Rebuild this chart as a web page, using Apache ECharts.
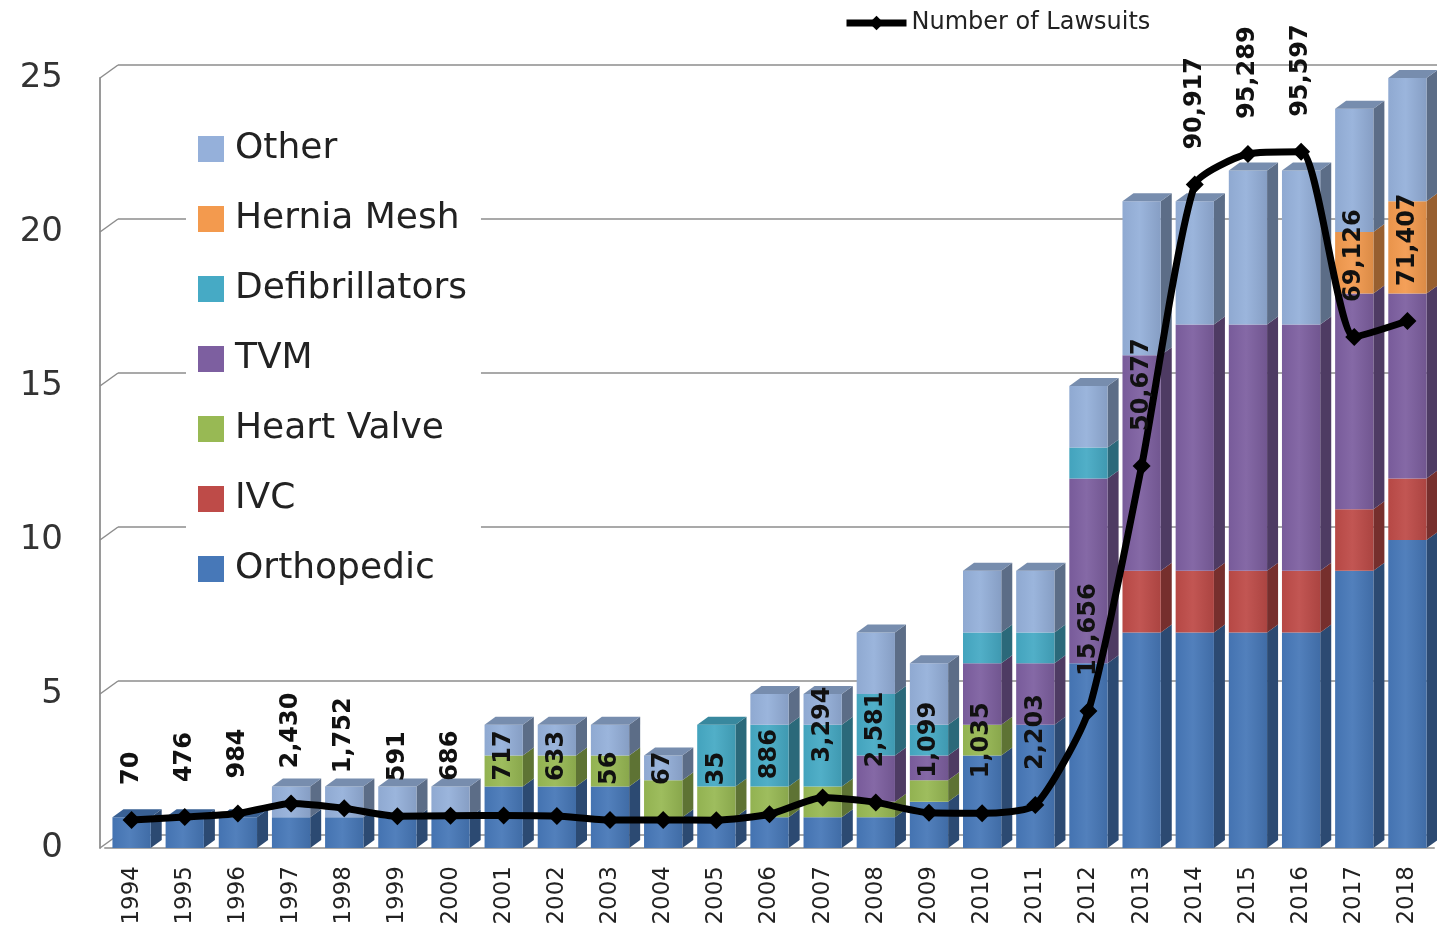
<!DOCTYPE html>
<html><head><meta charset="utf-8">
<script src="https://cdn.jsdelivr.net/npm/echarts@6/dist/echarts.min.js"></script>
<style>html,body{margin:0;padding:0;background:#fff;}#c{width:1437px;height:932px;}</style>
</head><body><div id="c"></div>
<script>
// ---- data ----
const years = ['1994','1995','1996','1997','1998','1999','2000','2001','2002','2003','2004','2005','2006','2007','2008','2009','2010','2011','2012','2013','2014','2015','2016','2017','2018'];
const orthopedic     = [1,1,1,1,1,1,1,2,2,2,1,1,1,1,1,1.5,3,4,6,7,7,7,7,9,10];
const ivc            = [0,0,0,0,0,0,0,0,0,0,0,0,0,0,0,0,0,0,0,2,2,2,2,2,2];
const heartValve     = [0,0,0,0,0,0,0,1,1,1,1.2,1,1,1,0.5,0.7,1,0,0,0,0,0,0,0,0];
const tvm            = [0,0,0,0,0,0,0,0,0,0,0,0,0,0,1.5,0.8,2,2,6,7,8,8,8,7,6];
const defibrillators = [0,0,0,0,0,0,0,0,0,0,0,2,2,2,2,1,1,1,1,0,0,0,0,0,0];
const herniaMesh     = [0,0,0,0,0,0,0,0,0,0,0,0,0,0,0,0,0,0,0,0,0,0,0,2,3];
const other          = [0,0,0,1,1,1,1,1,1,1,0.8,0,1,1,2,2,2,2,2,5,4,5,5,4,4];
const lawsuits       = [70,476,984,2430,1752,591,686,717,633,56,67,35,886,3294,2581,1099,1035,2203,15656,50677,90917,95289,95597,69126,71407];
const yTicks = [0,5,10,15,20,25];

const stackDefs = [
  {name:'Orthopedic', data: orthopedic, color:'#4778B8'},
  {name:'IVC', data: ivc, color:'#BE4B48'},
  {name:'Heart Valve', data: heartValve, color:'#98B954'},
  {name:'TVM', data: tvm, color:'#7D5FA0'},
  {name:'Defibrillators', data: defibrillators, color:'#46AAC5'},
  {name:'Hernia Mesh', data: herniaMesh, color:'#F39A4E'},
  {name:'Other', data: other, color:'#95B0DA'}
];
const legendOrder = ['Other','Hernia Mesh','Defibrillators','TVM','Heart Valve','IVC','Orthopedic'];

// ---- helpers ----
function shade(hex, f){
  const n = parseInt(hex.slice(1),16);
  let r=(n>>16)&255, g=(n>>8)&255, b=n&255;
  if (f<0){ r=Math.round(r*(1+f)); g=Math.round(g*(1+f)); b=Math.round(b*(1+f)); }
  else { r=Math.round(r+(255-r)*f); g=Math.round(g+(255-g)*f); b=Math.round(b+(255-b)*f); }
  return 'rgb('+r+','+g+','+b+')';
}
const DX = 11, DY = 8, WALL_DX = 18, WALL_DY = 13;

function barRender(color){
  return function(params, api){
    const idx = api.value(0), b = api.value(1), t = api.value(2), isTop = api.value(3);
    if (!(t > b)) return;
    const p0 = api.coord([idx, b]), p1 = api.coord([idx, t]);
    const band = api.size([1, 0])[0];
    const w = band * 0.72;
    const x = p0[0] - w/2;
    const yb = p0[1], yt = p1[1];
    const children = [
      {type:'polygon', shape:{points:[[x+w,yt],[x+w+DX,yt-DY],[x+w+DX,yb-DY],[x+w,yb]]},
       style:{fill: shade(color,-0.38)}},
      {type:'rect', shape:{x:x, y:yt, width:w, height:yb-yt},
       style:{fill: new echarts.graphic.LinearGradient(0,0,1,0,[
         {offset:0, color: shade(color,-0.04)},
         {offset:0.45, color: shade(color,0.06)},
         {offset:1, color: shade(color,-0.1)}])}}
    ];
    if (isTop){
      children.push({type:'polygon', shape:{points:[[x,yt],[x+DX,yt-DY],[x+w+DX,yt-DY],[x+w,yt]]},
        style:{fill: shade(color,-0.2)}});
    }
    return {type:'group', children: children};
  };
}

const series = [];
stackDefs.forEach(function(def, si){
  const data = years.map(function(y, j){
    let base = 0;
    for (let k=0;k<si;k++) base += stackDefs[k].data[j];
    let isTop = 1;
    for (let k=si+1;k<stackDefs.length;k++) if (stackDefs[k].data[j] > 0) isTop = 0;
    return [j, base, base + def.data[j], isTop];
  });
  series.push({
    name: def.name, type:'custom', xAxisIndex:0, yAxisIndex:0,
    itemStyle:{color: def.color},
    encode:{x:0, y:[1,2]},
    renderItem: barRender(def.color),
    data: data, z: 2, silent: true
  });
});

// wall connectors (3D side wall diagonals at each tick)
series.push({
  name:'_wall', type:'custom', xAxisIndex:0, yAxisIndex:0, silent:true, z:1,
  encode:{x:0, y:1},
  data: yTicks.map(function(v){ return [0, v]; }),
  renderItem: function(params, api){
    const c = api.coord([0, api.value(1)]);
    const left = c[0] - api.size([1,0])[0]/2 - 5;
    return {type:'line', shape:{x1:left, y1:c[1], x2:left+WALL_DX, y2:c[1]-WALL_DY},
      style:{stroke:'#8c8c8c', lineWidth:1.5}};
  }
});

series.push({
  name:'Number of Lawsuits', type:'line', xAxisIndex:0, yAxisIndex:1,
  data: lawsuits, smooth: 0.2, symbol:'diamond', symbolSize:18,
  lineStyle:{color:'#000', width:7}, itemStyle:{color:'#000'}, z:10,
  label:{show:true, position:'top', distance:26, rotate:90, align:'left', verticalAlign:'middle',
    fontSize:24, fontWeight:'bold', fontFamily:'DejaVu Sans', color:'#111',
    formatter:function(p){ return Number(p.value).toLocaleString('en-US'); }}
});

const chart = echarts.init(document.getElementById('c'), null, {renderer:'canvas'});
chart.setOption({
  backgroundColor:'#fff',
  animation:false,
  grid:[
    {left:105, right:3, top:78, bottom:84, outerBoundsMode:'none', containLabel:false},
    {left:105+WALL_DX-5, right:0, top:78-WALL_DY, bottom:84+WALL_DY, outerBoundsMode:'none', containLabel:false}
  ],
  xAxis:[
    {type:'category', gridIndex:0, data: years, boundaryGap:true,
      axisLine:{show:true, lineStyle:{color:'#a8a8a8', width:2}},
      axisTick:{show:false},
      axisLabel:{rotate:90, fontSize:23, fontFamily:'DejaVu Sans', color:'#222', margin:18, interval:0},
      splitLine:{show:false}},
    {type:'category', gridIndex:1, data: years, show:false}
  ],
  yAxis:[
    {type:'value', gridIndex:0, min:0, max:25, interval:5, offset:5,
      axisLine:{show:true, lineStyle:{color:'#9a9a9a', width:2}},
      axisTick:{show:false},
      axisLabel:{fontSize:34, fontFamily:'DejaVu Sans', color:'#333', margin:37},
      splitLine:{show:false}},
    {type:'value', gridIndex:0, min:-3940, max:106160, show:false, splitLine:{show:false}},
    {type:'value', gridIndex:1, min:0, max:25, interval:5,
      axisLine:{show:false}, axisTick:{show:false}, axisLabel:{show:false},
      splitLine:{show:true, lineStyle:{color:'#8c8c8c', width:1.5}}}
  ],
  legend:[
    {data: legendOrder, orient:'vertical', left:186, top:121, itemWidth:26, itemHeight:26, itemGap:34,
      icon:'rect', backgroundColor:'#fff', padding:[10,14,10,12], selectedMode:false,
      textStyle:{fontSize:36, fontFamily:'DejaVu Sans', color:'#222', lineHeight:36, padding:[0,0,0,6]}},
    {data:['Number of Lawsuits'], left:838, top:6, itemWidth:60, itemHeight:18, selectedMode:false,
      lineStyle:{width:7, color:'#000'}, itemStyle:{color:'#000'},
      textStyle:{fontSize:24, fontFamily:'DejaVu Sans', color:'#222'}}
  ],
  series: series
});
</script></body></html>
